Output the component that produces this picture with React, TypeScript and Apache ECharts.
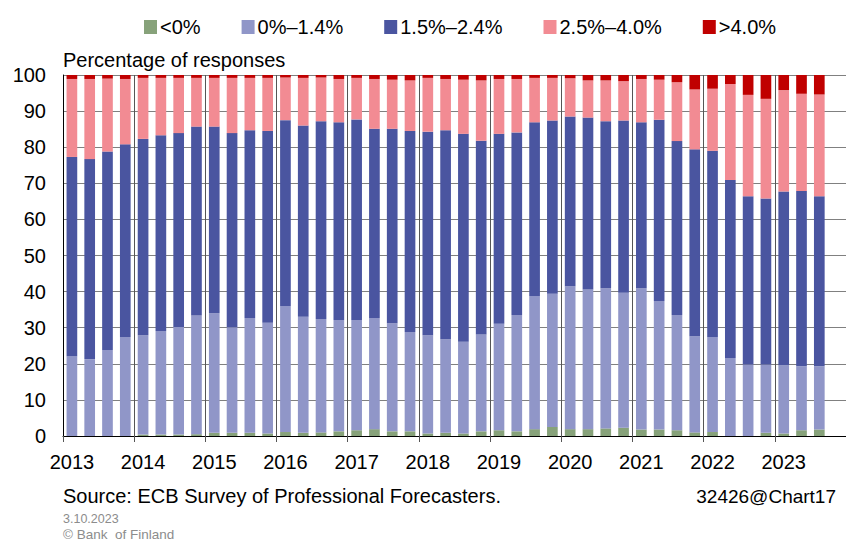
import React, { useEffect, useRef } from "react";
import * as echarts from "echarts";

const years = ["2013","2014","2015","2016","2017","2018","2019","2020","2021","2022","2023"];
const seriesNames = ["<0%", "0%–1.4%", "1.5%–2.4%", "2.5%–4.0%", ">4.0%"];
const colors = ["#87A27A", "#9096C8", "#4A55A0", "#F28B93", "#C00000"];

// Quarterly values 2013Q1 .. 2023Q3 (percentage of responses)
const neg = [0,0,0,0, 0.4,0.4,0.4,0.5, 0.9,0.9,0.9,0.7, 1.1,0.9,1.0,1.3, 1.6,1.9,1.3,1.3, 0.7,0.9,0.7,1.3, 1.6,1.3,1.9,2.5, 1.9,1.9,2.1,2.3, 1.8,1.8,1.6,1.0, 1.1,0,0,0.9, 0.7,1.6,1.8];
const low = [22.1,21.3,23.8,27.4, 27.5,28.7,29.8,32.9, 33.1,29.2,31.8,30.7, 34.9,32.1,31.4,30.8, 30.5,30.8,29.9,27.5, 27.2,25.9,25.4,26.8, 29.5,32.2,36.9,36.9, 39.6,38.7,38.8,37.4, 39.1,35.6,31.9,26.6, 26.3,21.6,19.8,18.9, 18.9,17.7,17.5];
const mid = [55.2,55.4,55.0,53.4, 54.4,54.2,53.7,52.3, 51.7,53.8,52.0,53.1, 51.5,53.0,54.8,54.8, 55.6,52.4,53.9,55.7, 56.4,57.9,57.6,53.7, 52.6,50.6,48.1,48.0, 47.0,47.6,46.3,47.7, 46.0,50.2,48.2,51.8, 51.6,49.3,46.6,46.0, 48.1,48.6,47.1];
const high = [21.6,22.2,20.2,18.1, 16.9,15.9,15.3,13.5, 13.5,15.3,14.5,14.7, 11.8,13.2,12.1,12.0, 11.5,13.8,13.6,14.0, 14.9,14.2,15.0,16.7, 15.2,14.8,12.3,11.8, 10.6,10.3,11.3,10.9, 12.0,11.1,16.3,16.6, 17.2,26.6,28.1,27.6, 28.1,26.9,28.2];
const top = [1.1,1.1,1.0,1.1, 0.8,0.8,0.8,0.8, 0.8,0.8,0.8,0.8, 0.7,0.8,0.7,1.1, 0.8,1.1,1.3,1.5, 0.8,1.1,1.3,1.5, 1.1,1.1,0.8,0.8, 0.9,1.5,1.5,1.7, 1.1,1.3,2.0,4.0, 3.8,2.5,5.5,6.6, 4.2,5.2,5.4];
const yTicks = { min: 0, max: 100, interval: 10 };

const categories: string[] = [];
years.forEach((y) => { for (let q = 1; q <= 4; q++) categories.push(y + "Q" + q); });

const FONT = "'Liberation Sans', Arial, sans-serif";

export default function App() {
  const ref = useRef<HTMLDivElement>(null);
  useEffect(() => {
    document.body.style.margin = "0";
    const chart = echarts.init(ref.current!, null, { renderer: "svg" });
    const data = [neg, low, mid, high, top];
    const isQ1 = (i: number) => i % 4 === 0;
    chart.setOption({
      animation: false,
      textStyle: { fontFamily: FONT },
      legend: {
        left: 139,
        top: 12,
        itemWidth: 13,
        itemHeight: 14,
        itemGap: 41,
        icon: "rect",
        textStyle: { fontSize: 20, color: "#000", fontFamily: FONT, padding: [0, 0, 0, -2] },
        data: seriesNames,
      },
      grid: { left: 63, right: -7, top: 75, bottom: 108, containLabel: false },
      xAxis: {
        type: "category",
        data: categories,
        boundaryGap: true,
        axisLine: { lineStyle: { color: "#000", width: 1 } },
        axisTick: { show: true, interval: (i: number) => isQ1(i), length: 6, lineStyle: { color: "#555" } },
        axisLabel: {
          interval: 0,
          margin: 16,
          fontSize: 20,
          color: "#000",
          fontFamily: FONT,
          formatter: (v: string, i: number) => (isQ1(i) ? v.slice(0, 4) : ""),
        },
        splitLine: { show: true, interval: (i: number) => isQ1(i) && i > 0, lineStyle: { color: "#555", width: 1 } },
      },
      yAxis: {
        type: "value",
        min: yTicks.min,
        max: yTicks.max,
        interval: yTicks.interval,
        axisLine: { show: true, lineStyle: { color: "#000" } },
        axisTick: { show: false },
        axisLabel: { fontSize: 20, color: "#000", margin: 17, fontFamily: FONT },
        splitLine: { show: true, lineStyle: { color: "#808080", width: 1 } },
      },
      series: seriesNames.map((name, k) => ({
        name,
        type: "bar",
        stack: "total",
        barCategoryGap: "40%",
        itemStyle: { color: colors[k] },
        data: data[k],
      })),
      graphic: [
        { type: "text", left: 63, top: 50, style: { text: "Percentage of responses", fontSize: 20, fill: "#000", fontFamily: FONT } },
        { type: "text", left: 63, top: 486, style: { text: "Source: ECB Survey of Professional Forecasters.", fontSize: 20, fill: "#000", fontFamily: FONT } },
        { type: "text", right: 10, top: 487, style: { text: "32426@Chart17", fontSize: 19, fill: "#000", fontFamily: FONT } },
        { type: "text", left: 63, top: 512, style: { text: "3.10.2023", fontSize: 12.5, fill: "#8c8c8c", fontFamily: FONT } },
        { type: "text", left: 63, top: 527, style: { text: "© Bank  of Finland", fontSize: 13.5, fill: "#8c8c8c", fontFamily: FONT } },
      ],
    });
    return () => chart.dispose();
  }, []);
  return <div ref={ref} style={{ width: 846, height: 544 }} />;
}
